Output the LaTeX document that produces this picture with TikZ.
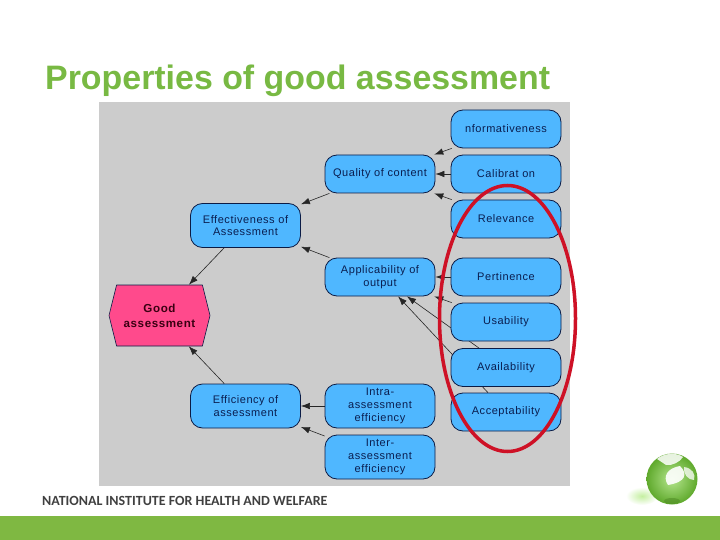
\documentclass[tikz,border=0pt]{standalone}
\usepackage{fontspec}
\setmainfont{Liberation Sans}
\newfontfamily\footfont{Carlito}
\newfontfamily\boxfont[LetterSpace=5]{Liberation Sans}
\usetikzlibrary{arrows.meta,backgrounds,shapes.symbols}
\definecolor{titlegreen}{HTML}{78B943}
\definecolor{bargreen}{HTML}{7FB842}
\definecolor{panelgray}{HTML}{CCCCCC}
\definecolor{boxblue}{HTML}{4FB7FF}
\definecolor{boxline}{HTML}{0B1B45}
\definecolor{boxtext}{HTML}{0A1E50}
\definecolor{goodpink}{HTML}{FF4A8C}
\definecolor{goodtext}{HTML}{3A0012}
\definecolor{ringred}{HTML}{CE1126}
\definecolor{balllight}{HTML}{B5E68E}
\definecolor{balldark}{HTML}{5FA92C}
\definecolor{ballshadow}{HTML}{C4EFA0}
\tikzset{
	prop/.style={draw=boxline,fill=boxblue,rounded corners=12pt,line width=0.8pt,minimum width=110pt,minimum height=38pt,inner sep=0pt,align=center,text=boxtext,font=\boxfont\fontsize{11}{12.8}\selectfont},
	tallprop/.style={prop,minimum height=44pt},
	goal/.style={draw=boxline,fill=goodpink,line width=0.6pt,shape=signal,signal to=east and west,signal pointer angle=152,minimum width=101pt,minimum height=61pt,inner sep=0pt,align=center,text=goodtext,font=\boxfont\fontsize{11.6}{15}\selectfont\bfseries},
	link/.style={-{Latex[length=9pt,width=6.5pt]},line width=0.6pt,black!85},
}
\begin{document}
\begin{tikzpicture}[x=1pt,y=-1pt]
	\useasboundingbox (0,0) rectangle (720,540);
	% bottom band and heading
	\fill[bargreen] (0,516) rectangle (720,540);
	\node[anchor=base west,inner sep=0pt,text=titlegreen,font=\fontsize{33.9}{36}\selectfont\bfseries] (heading) at (45,89.5) {Properties of good assessment};
	\node[anchor=base west,inner sep=0pt,text=black!75,font=\footfont\fontsize{14}{16}\selectfont\bfseries] (institute) at (42,505) {NATIONAL INSTITUTE FOR HEALTH AND WELFARE};
	% right column
	\node[prop] (info) at (506,129) {nformativeness};
	\node[prop] (calib) at (506,174) {Calibrat on};
	\node[prop] (relev) at (506,219) {Relevance};
	\node[prop] (pert) at (506,277) {Pertinence};
	\node[prop] (usab) at (506,322) {Usability};
	\node[prop] (avail) at (506,367.5) {Availability};
	\node[prop] (accept) at (506,412) {Acceptability};
	% middle column
	\node[prop] (quality) at (380,174) {Quality of content};
	\node[prop] (applic) at (380,277) {Applicability of\\output};
	\node[tallprop] (intra) at (380,406) {Intra-\\assessment\\efficiency};
	\node[tallprop] (inter) at (380,457) {Inter-\\assessment\\efficiency};
	% left column
	\node[tallprop] (effect) at (245.5,225.5) {Effectiveness of\\Assessment};
	\node[tallprop] (effic) at (245.5,406) {Efficiency of\\assessment};
	\node[goal] (good) at (159.5,315.5) {Good\\assessment};
	% panel and links go behind the boxes
	\begin{pgfonlayer}{background}
		\fill[panelgray] (99,102) rectangle (570,486);
		\foreach \from/\to in {info/quality,calib/quality,relev/quality,quality/effect,applic/effect,pert/applic,usab/applic,avail/applic,accept/applic,intra/effic,inter/effic,effect/good,effic/good}
			\draw[link] (\from) -- (\to);
	\end{pgfonlayer}
	% red ring
	\draw[ringred,line width=3.5pt] (507.5,318.5) ellipse (68 and 133);
	% logo
	\shade[inner color=ballshadow,outer color=white] (642,496) ellipse (16 and 9);
	\shade[inner color=balllight,outer color=balldark] (672,479) circle (25.5);
	\fill[balldark!80!black,opacity=0.5] (672,501) ellipse (8 and 3);
	\fill[white,opacity=0.85] (657,459) .. controls (664,453) and (676,452) .. (683,457) .. controls (680,462) and (672,466) .. (666,465) -- cycle;
	\fill[white,opacity=0.9] (680,466) .. controls (688,474) and (686,482) .. (668,485) .. controls (662,476) and (668,468) .. (680,466) -- cycle;
	\fill[white,opacity=0.75] (684,467) .. controls (692,468) and (696,474) .. (694,480) .. controls (688,480) and (683,474) .. (684,467) -- cycle;
\end{tikzpicture}
\end{document}
